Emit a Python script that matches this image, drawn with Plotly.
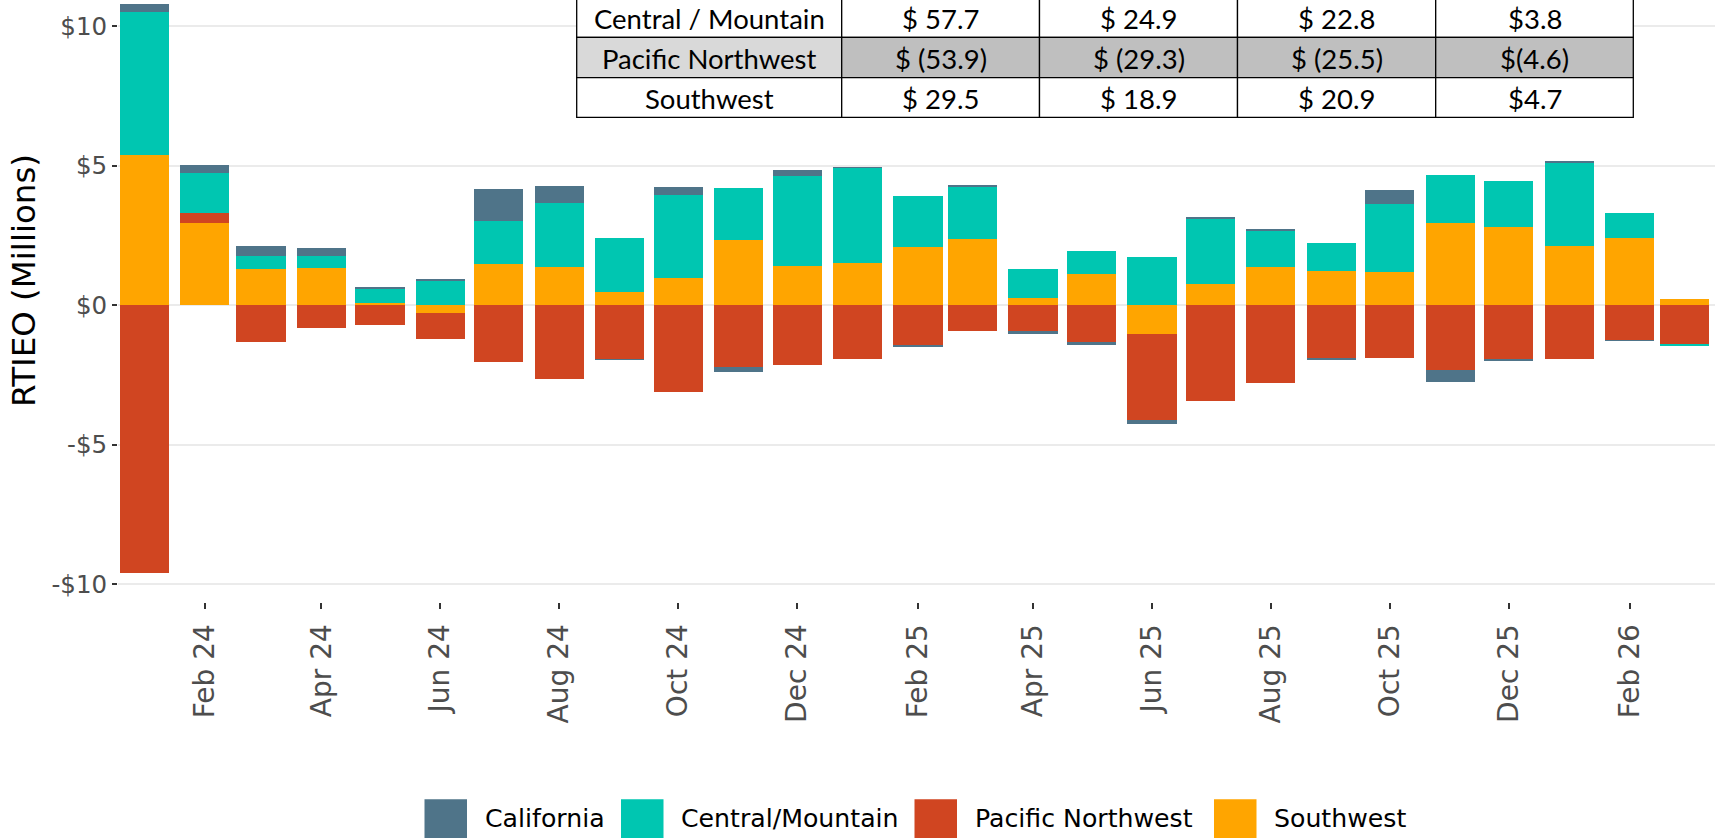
import pandas as pd
import plotly.graph_objects as go

# ---- monthly RTIEO by region ($ millions) ----
months = pd.date_range("2024-01-01", "2026-03-01", freq="MS")

southwest = [5.38, 2.96, 1.29, 1.32, 0.09, -0.29, 1.47, 1.38, 0.48, 0.97, 2.34, 1.42,
             1.52, 2.07, 2.37, 0.25, 1.12, -1.02, 0.77, 1.36, 1.23, 1.20, 2.96, 2.79,
             2.11, 2.40, 0.21]
pacific_northwest = [-9.61, 0.36, -1.33, -0.83, -0.71, -0.93, -2.05, -2.65, -1.93, -3.12, -2.20, -2.14,
                     -1.93, -1.44, -0.94, -0.96, -1.32, -3.08, -3.44, -2.80, -1.90, -1.89, -2.32, -1.96,
                     -1.94, -1.25, -1.40]
central_mountain = [5.14, 1.42, 0.48, 0.43, 0.52, 0.90, 1.54, 2.27, 1.92, 2.98, 1.85, 3.21,
                    3.41, 1.86, 1.88, 1.04, 0.82, 1.74, 2.33, 1.30, 0.99, 2.42, 1.72, 1.65,
                    3.02, 0.89, -0.03]
california = [0.26, 0.29, 0.36, 0.30, 0.02, 0.03, 1.15, 0.61, -0.03, 0.27, -0.18, 0.22,
              0.01, -0.03, 0.06, -0.06, -0.09, -0.17, 0.05, 0.04, -0.04, 0.51, -0.44, -0.05,
              0.02, -0.03, 0.0]

tick_dates = ["2024-02-01", "2024-04-01", "2024-06-01", "2024-08-01", "2024-10-01",
              "2024-12-01", "2025-02-01", "2025-04-01", "2025-06-01", "2025-08-01",
              "2025-10-01", "2025-12-01", "2026-02-01"]
tick_labels = ["Feb 24", "Apr 24", "Jun 24", "Aug 24", "Oct 24", "Dec 24", "Feb 25",
               "Apr 25", "Jun 25", "Aug 25", "Oct 25", "Dec 25", "Feb 26"]

y_tickvals = [-10, -5, 0, 5, 10]
y_ticktext = ["-$10", "-$5", "$0", "$5", "$10"]

# summary table
table_regions = ["Central / Mountain", "Pacific Northwest", "Southwest"]
table_col_a = ["$ 57.7", "$ (53.9)", "$ 29.5"]
table_col_b = ["$ 24.9", "$ (29.3)", "$ 18.9"]
table_col_c = ["$ 22.8", "$ (25.5)", "$ 20.9"]
table_col_d = ["$3.8", "$(4.6)", "$4.7"]

series = [
    ("Southwest", southwest, "#FFA500"),
    ("Pacific Northwest", pacific_northwest, "#D04521"),
    ("Central/Mountain", central_mountain, "#00C6B1"),
    ("California", california, "#4F7489"),
]
legend_order = ["California", "Central/Mountain", "Pacific Northwest", "Southwest"]
colors = {name: col for name, _, col in series}

# ---- geometry ----
W, H = 1715, 838
ML, MR, MT, MB = 118, 0, 0, 236
PW, PH = W - ML - MR, H - MT - MB
zero_px, px_per_unit = 305.2, 27.9
ref_date, ref_px, px_per_day = pd.Timestamp("2024-02-01"), 204.5, 1.9495


def fx(px):
    return (px - ML) / PW


def fy(py):
    return (MT + PH - py) / PH


x_lo = ref_date + pd.Timedelta(days=(ML - ref_px) / px_per_day)
x_hi = ref_date + pd.Timedelta(days=(W - MR - ref_px) / px_per_day)
y_hi = (zero_px - MT) / px_per_unit
y_lo = -(MT + PH - zero_px) / px_per_unit

bar_width_ms = 0.9 * 28 * 24 * 3600 * 1000

fig = go.Figure()
for name, vals, col in series:
    fig.add_trace(go.Bar(
        x=months, y=vals, name=name, width=bar_width_ms,
        marker=dict(color=col, line=dict(width=0)),
        showlegend=False,
    ))

shapes = []
annotations = []

# table cells
col_edges = [576.7, 841.7, 1039.5, 1237.5, 1435.7, 1633.3]
row_edges = [-3, 37.3, 77.7, 117.3]
table_cols = [table_regions, table_col_a, table_col_b, table_col_c, table_col_d]
for r in range(3):
    for c in range(5):
        if r == 1:
            fill = "#D9D9D9" if c == 0 else "#BFBFBF"
        else:
            fill = "#FFFFFF"
        shapes.append(dict(
            type="rect", xref="paper", yref="paper", layer="above",
            x0=fx(col_edges[c]), x1=fx(col_edges[c + 1]),
            y0=fy(row_edges[r + 1]), y1=fy(row_edges[r]),
            fillcolor=fill, line=dict(color="#000000", width=1.3),
        ))
        annotations.append(dict(
            xref="paper", yref="paper", showarrow=False,
            x=fx((col_edges[c] + col_edges[c + 1]) / 2),
            y=fy((row_edges[r] + row_edges[r + 1]) / 2 + 1),
            xanchor="center", yanchor="middle",
            text=table_cols[c][r],
            font=dict(family="Lato", size=27.5, color="#000000"),
        ))

# legend
swatch_x = [424.5, 621.0, 914.5, 1214.0]
for name, sx in zip(legend_order, swatch_x):
    shapes.append(dict(
        type="rect", xref="paper", yref="paper", layer="above",
        x0=fx(sx), x1=fx(sx + 42.5), y0=fy(842), y1=fy(799.3),
        fillcolor=colors[name], line=dict(width=0),
    ))
    annotations.append(dict(
        xref="paper", yref="paper", showarrow=False,
        x=fx(sx + 58), y=fy(818), xanchor="left", yanchor="middle",
        text=name, font=dict(family="DejaVu Sans", size=25.2, color="#000000"),
    ))

# y-axis title
annotations.append(dict(
    xref="paper", yref="paper", showarrow=False,
    x=fx(24), y=fy(281), xanchor="center", yanchor="middle", textangle=-90,
    text="RTIEO (Millions)", font=dict(family="DejaVu Sans", size=32.5, color="#000000"),
))

fig.update_layout(
    width=W, height=H,
    margin=dict(l=ML, r=MR, t=MT, b=MB, pad=0),
    paper_bgcolor="#FFFFFF", plot_bgcolor="#FFFFFF",
    barmode="relative", bargap=0,
    showlegend=False,
    shapes=shapes, annotations=annotations,
    font=dict(family="DejaVu Sans"),
)
fig.update_xaxes(
    type="date", range=[x_lo.isoformat(), x_hi.isoformat()],
    tickmode="array", tickvals=tick_dates, ticktext=tick_labels, tickangle=-90,
    ticks="outside", ticklen=6, tickwidth=1.5, tickcolor="#333333",
    tickfont=dict(family="DejaVu Sans", size=28, color="#4D4D4D"),
    showgrid=False, zeroline=False, showline=False, automargin=False,
    ticklabelstandoff=4,
)
fig.update_yaxes(
    range=[y_lo, y_hi],
    tickmode="array", tickvals=y_tickvals, ticktext=y_ticktext,
    ticks="outside", ticklen=5, tickwidth=1.5, tickcolor="#333333",
    tickfont=dict(family="DejaVu Sans", size=24.5, color="#4D4D4D"),
    showgrid=True, gridcolor="#EBEBEB", gridwidth=1.6,
    zeroline=False, showline=False, automargin=False,
)

fig.write_html("out.html")
